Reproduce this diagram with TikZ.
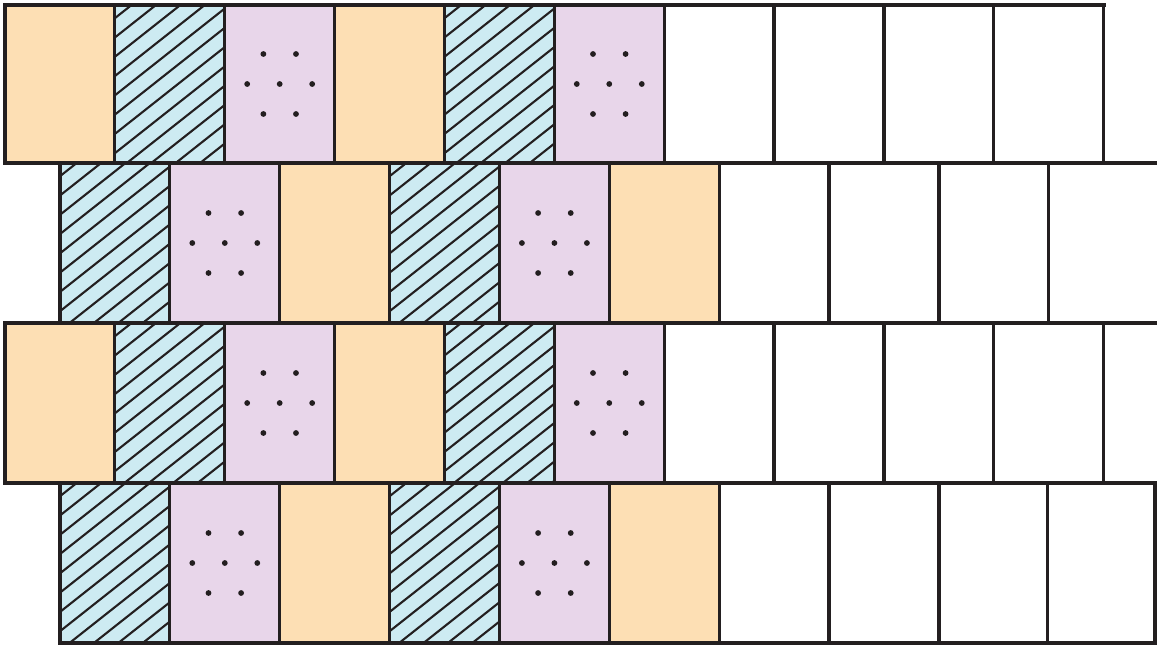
\documentclass[tikz,border=0pt]{standalone}
\definecolor{cor}{HTML}{FDDFB4}
\definecolor{cbl}{HTML}{CDEBF2}
\definecolor{cpu}{HTML}{E8D6EA}
\definecolor{ink}{HTML}{231F20}
\tikzset{
  hatchline/.style={draw=ink,line width=2.1pt},
  border/.style={draw=ink,line width=3.2pt,line cap=rect},
  dotmark/.style={fill=ink}
}
\newcommand\cw{109.87}
\newcommand\orcell[3]{\fill[cor] (#1,#2) rectangle ++(\cw,#3);}
\newcommand\blcell[3]{%
  \fill[cbl] (#1,#2) rectangle ++(\cw,#3);
  \begin{scope}
    \clip (#1,#2) rectangle ++(\cw,#3);
    \foreach \k in {0,...,14}
      \draw[hatchline] ({#1+16.7+\k*24.4},#2) -- ++(-253,200);
  \end{scope}}
\newcommand\pucell[3]{%
  \fill[cpu] (#1,#2) rectangle ++(\cw,#3);
  \foreach \dx/\dy in {-16.3/-30,16.3/-30,-32.5/0,0/0,32.5/0,-16.3/30,16.3/30}
    \fill[dotmark] ({#1+\cw/2+\dx},{#2+#3/2+\dy}) circle (2.9);}
\newcommand\rowA[3]{%
  \orcell{#1}{#2}{#3}
  \blcell{#1+\cw}{#2}{#3}
  \pucell{#1+2*\cw}{#2}{#3}
  \orcell{#1+3*\cw}{#2}{#3}
  \blcell{#1+4*\cw}{#2}{#3}
  \pucell{#1+5*\cw}{#2}{#3}}
\newcommand\rowB[3]{%
  \blcell{#1}{#2}{#3}
  \pucell{#1+\cw}{#2}{#3}
  \orcell{#1+2*\cw}{#2}{#3}
  \blcell{#1+3*\cw}{#2}{#3}
  \pucell{#1+4*\cw}{#2}{#3}
  \orcell{#1+5*\cw}{#2}{#3}}
\begin{document}
\begin{tikzpicture}[x=1pt,y=-1pt]
\useasboundingbox (0,0) rectangle (1157,648);
\fill[white] (0,0) rectangle (1157,648);
% fills
\rowA{5}{5}{158}
\rowB{60}{163}{160}
\rowA{5}{323}{160}
\rowB{60}{483}{160}
% horizontal borders
\draw[border] (5,5) -- (1104,5);
\draw[border] (5,163) -- (1157,163);
\draw[border] (5,323) -- (1157,323);
\draw[border] (5,483) -- (1157,483);
\draw[border] (60,643) -- (1155,643);
% vertical borders
\foreach \i in {0,...,10} \draw[border] ({5+\i*\cw},5) -- ({5+\i*\cw},163);
\foreach \i in {0,...,9} \draw[border] ({60+\i*\cw},163) -- ({60+\i*\cw},323);
\foreach \i in {0,...,10} \draw[border] ({5+\i*\cw},323) -- ({5+\i*\cw},483);
\foreach \i in {0,...,8} \draw[border] ({60+\i*\cw},483) -- ({60+\i*\cw},643);
\draw[border] (1047.5,483) -- (1047.5,643);
\draw[border] (1155,483) -- (1155,643);
\end{tikzpicture}
\end{document}
